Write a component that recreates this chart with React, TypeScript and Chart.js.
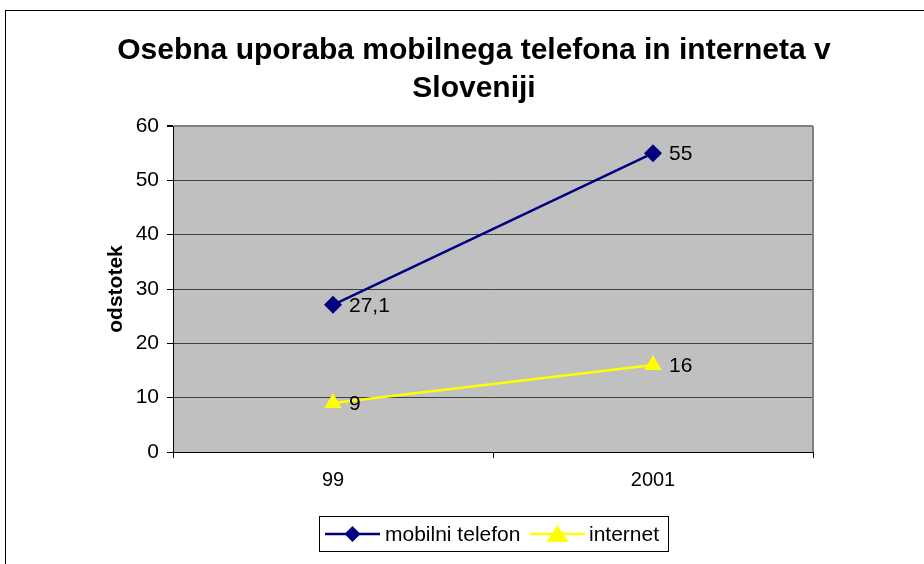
import React, { useEffect, useRef } from "react";
import { Chart, registerables } from "chart.js";

Chart.register(...registerables);

const titleLines = ["Osebna uporaba mobilnega telefona in interneta v", "Sloveniji"];
const yAxisTitle = "odstotek";
const categories = ["99", "2001"];
const seriesNames = ["mobilni telefon", "internet"];
const mobilniValues = [27.1, 55];
const internetValues = [9, 16];
const mobilniLabels = ["27,1", "55"];
const internetLabels = ["9", "16"];
const seriesColors = ["#000080", "#FFFF00"];
const FONT = "Arial, 'Liberation Sans', Helvetica, sans-serif";

const decorPlugin = {
  id: "decor",
  beforeDraw(chart: any) {
    const { ctx, chartArea } = chart;
    ctx.save();
    ctx.fillStyle = "#ffffff";
    ctx.fillRect(0, 0, chart.width, chart.height);
    ctx.strokeStyle = "#000";
    ctx.lineWidth = 1;
    ctx.strokeRect(5.5, 10.5, chart.width + 10, chart.height + 10);
    ctx.fillStyle = "#C0C0C0";
    ctx.fillRect(chartArea.left, chartArea.top, chartArea.right - chartArea.left, chartArea.bottom - chartArea.top);
    ctx.restore();
  },
  afterDraw(chart: any) {
    const { ctx, chartArea } = chart;
    ctx.save();
    ctx.strokeStyle = "#808080";
    ctx.lineWidth = 2;
    ctx.beginPath();
    ctx.moveTo(chartArea.right, chartArea.top);
    ctx.lineTo(chartArea.right, chartArea.bottom);
    ctx.stroke();

    ctx.fillStyle = "#000";
    ctx.font = `bold 30px ${FONT}`;
    ctx.textAlign = "center";
    ctx.textBaseline = "middle";
    ctx.fillText(titleLines[0], 474, 51);
    ctx.fillText(titleLines[1], 474, 89);

    ctx.save();
    ctx.translate(116, chartArea.top + (chartArea.bottom - chartArea.top) / 2);
    ctx.rotate(-Math.PI / 2);
    ctx.font = `bold 21px ${FONT}`;
    ctx.fillText(yAxisTitle, 0, 0);
    ctx.restore();

    ctx.font = `21px ${FONT}`;
    ctx.textAlign = "left";
    ctx.textBaseline = "middle";
    const labelSets = [mobilniLabels, internetLabels];
    chart.data.datasets.forEach((ds: any, i: number) => {
      const meta = chart.getDatasetMeta(i);
      meta.data.forEach((pt: any, j: number) => {
        ctx.fillText(labelSets[i][j], pt.x + 16, pt.y + 1);
      });
    });

    const lx = 319.5, ly = 516.5, lw = 349, lh = 35;
    ctx.strokeStyle = "#000";
    ctx.lineWidth = 1;
    ctx.fillStyle = "#fff";
    ctx.fillRect(lx, ly, lw, lh);
    ctx.strokeRect(lx, ly, lw, lh);
    const cy = ly + lh / 2;
    const items = [
      { x0: 325, x1: 380, text: seriesNames[0], color: seriesColors[0], style: "diamond", tx: 385 },
      { x0: 530, x1: 585, text: seriesNames[1], color: seriesColors[1], style: "triangle", tx: 589 },
    ];
    items.forEach((it) => {
      ctx.strokeStyle = it.color;
      ctx.lineWidth = 2.5;
      ctx.beginPath();
      ctx.moveTo(it.x0, cy);
      ctx.lineTo(it.x1, cy);
      ctx.stroke();
      const mx = (it.x0 + it.x1) / 2;
      ctx.fillStyle = it.color;
      ctx.beginPath();
      if (it.style === "diamond") {
        ctx.moveTo(mx, cy - 8);
        ctx.lineTo(mx + 8, cy);
        ctx.lineTo(mx, cy + 8);
        ctx.lineTo(mx - 8, cy);
      } else {
        ctx.moveTo(mx, cy - 9);
        ctx.lineTo(mx + 11, cy + 8);
        ctx.lineTo(mx - 11, cy + 8);
      }
      ctx.closePath();
      ctx.fill();
      ctx.fillStyle = "#000";
      ctx.font = `21px ${FONT}`;
      ctx.textAlign = "left";
      ctx.textBaseline = "middle";
      ctx.fillText(it.text, it.tx, cy + 1);
    });
    ctx.restore();
  },
};

export default function App() {
  const ref = useRef<HTMLCanvasElement>(null);
  useEffect(() => {
    document.body.style.margin = "0";
    const chart = new Chart(ref.current as HTMLCanvasElement, {
      type: "line",
      data: {
        labels: categories,
        datasets: [
          {
            label: seriesNames[0],
            data: mobilniValues,
            borderColor: seriesColors[0],
            backgroundColor: seriesColors[0],
            borderWidth: 2.5,
            pointStyle: "rectRot",
            pointRadius: 9,
            pointBorderWidth: 0,
          },
          {
            label: seriesNames[1],
            data: internetValues,
            borderColor: seriesColors[1],
            backgroundColor: seriesColors[1],
            borderWidth: 2.5,
            pointStyle: "triangle",
            pointRadius: 10,
            pointBorderWidth: 0,
          },
        ],
      },
      options: {
        animation: false,
        responsive: false,
        devicePixelRatio: 1,
        layout: { padding: { left: 113, right: 111, top: 126, bottom: 72 } },
        plugins: { legend: { display: false }, title: { display: false }, tooltip: { enabled: false } },
        scales: {
          x: {
            offset: true,
            afterFit: (s: any) => { s.height = 40; },
            grid: {
              offset: true,
              drawOnChartArea: false,
              drawTicks: true,
              tickLength: 6,
              color: "#000",
              tickColor: "#000",
            },
            border: { display: true, color: "#000", width: 1 },
            ticks: { color: "#000", font: { family: FONT, size: 20 }, padding: 10 },
          },
          y: {
            min: 0,
            max: 60,
            afterFit: (s: any) => { s.width = 60; },
            ticks: { stepSize: 10, color: "#000", font: { family: FONT, size: 21 }, padding: 8 },
            grid: {
              color: (c: any) => (c.tick && c.tick.value === 60 ? "#808080" : "#404040"),
              tickColor: "#000",
              tickLength: 6,
              lineWidth: (c: any) => (c.tick && c.tick.value === 60 ? 2 : 1),
            },
            border: { display: true, color: "#000", width: 1 },
          },
        },
      },
      plugins: [decorPlugin],
    });
    return () => chart.destroy();
  }, []);
  return (
    <div style={{ position: "absolute", left: 0, top: 0, width: 924, height: 564 }}>
      <canvas ref={ref} width={924} height={564} style={{ display: "block" }} />
    </div>
  );
}
